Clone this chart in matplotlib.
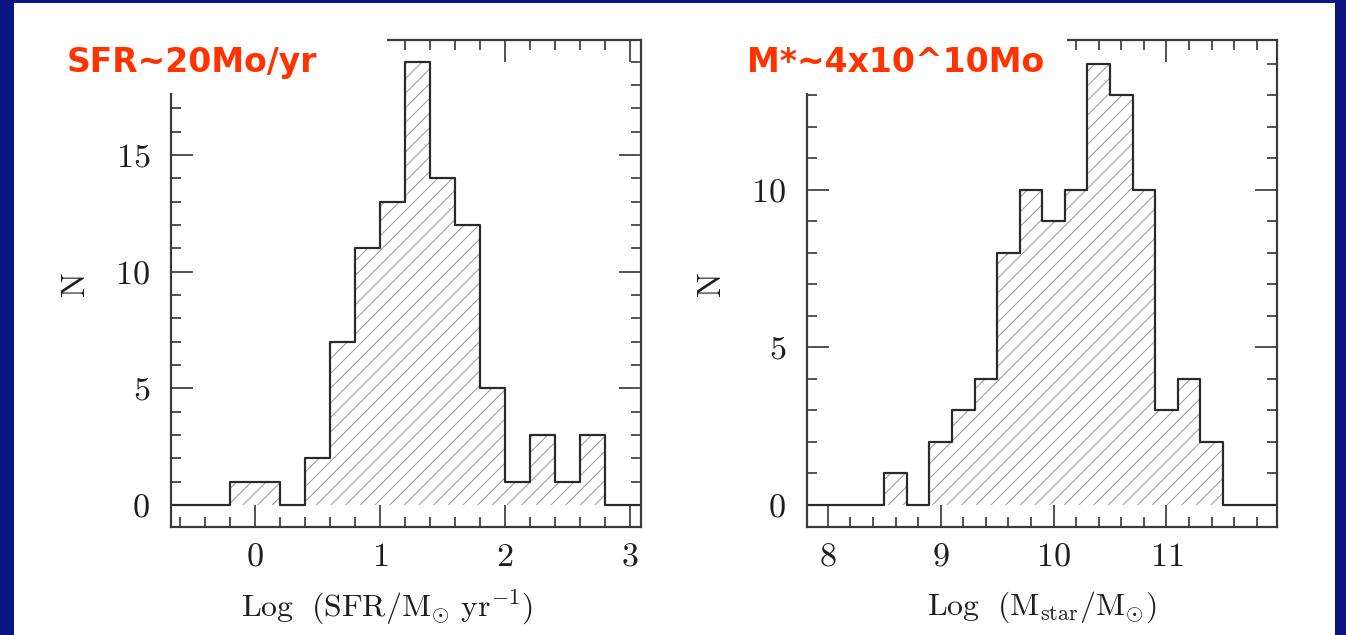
import numpy as np
import matplotlib
matplotlib.use('Agg')
import matplotlib.pyplot as plt
from matplotlib.ticker import MultipleLocator
from matplotlib.patches import Rectangle

# histogram counts, bins of 0.2 dex
sfr_edges = [-0.2, 0.0, 0.2, 0.4, 0.6, 0.8, 1.0, 1.2, 1.4, 1.6, 1.8, 2.0, 2.2, 2.4, 2.6, 2.8]
sfr_counts = [1, 1, 0, 2, 7, 11, 13, 19, 14, 12, 5, 1, 3, 1, 3]

mass_edges = [8.5, 8.7, 8.9, 9.1, 9.3, 9.5, 9.7, 9.9, 10.1, 10.3, 10.5, 10.7, 10.9, 11.1, 11.3, 11.5]
mass_counts = [1, 0, 2, 3, 4, 8, 10, 9, 10, 14, 13, 10, 3, 4, 2]

sfr_xlabel = r'$\mathrm{Log\ \ (SFR/M_{\odot}\ yr^{-1})}$'
mass_xlabel = r'$\mathrm{Log\ \ (M_{star}/M_{\odot})}$'
sfr_note = 'SFR~20Mo/yr'
mass_note = 'M*~4x10^10Mo'

W, H, DPI = 1346, 635, 88

plt.rcParams['font.family'] = 'serif'
plt.rcParams['font.serif'] = ['cmr10']
plt.rcParams['mathtext.fontset'] = 'cm'
plt.rcParams['axes.formatter.use_mathtext'] = True
plt.rcParams['hatch.linewidth'] = 0.8

FRAME = '#3a3a3a'
RED = '#ff3300'
TXT = '#1e1e1e'


def hist_panel(ax, edges, counts, xlim, ylim, xmaj, ymaj):
    edges = np.asarray(edges, dtype=float)
    counts = np.asarray(counts, dtype=float)
    ax.fill_between(edges, np.append(counts, counts[-1]), 0, step='post',
                    facecolor='none', edgecolor='#9a9a9a', hatch='//', linewidth=0)
    x = np.concatenate([[xlim[0]], edges, [xlim[1]]])
    y = np.concatenate([[0], counts, [0, 0]])
    ax.step(x, y, where='post', color='#2a2a2a', lw=1.8)
    ax.set_xlim(*xlim)
    ax.set_ylim(*ylim)
    ax.xaxis.set_major_locator(MultipleLocator(xmaj))
    ax.xaxis.set_minor_locator(MultipleLocator(0.2))
    ax.yaxis.set_major_locator(MultipleLocator(ymaj))
    ax.yaxis.set_minor_locator(MultipleLocator(1))
    ax.tick_params(which='both', direction='in', top=True, right=True,
                   color=FRAME, width=1.4, labelsize=28, labelcolor=TXT)
    ax.tick_params(which='major', length=18)
    ax.tick_params(which='minor', length=8)
    ax.tick_params(axis='x', which='major', pad=13)
    ax.tick_params(axis='y', which='major', pad=17)
    for s in ax.spines.values():
        s.set_color(FRAME)
        s.set_linewidth(1.8)


fig = plt.figure(figsize=(W / DPI, H / DPI), dpi=DPI, facecolor='#0b1582')
# white slide area inside the blue frame
fig.patches.append(Rectangle((14 / W, 0), (1335 - 14) / W, (H - 3) / H,
                             transform=fig.transFigure, facecolor='white',
                             edgecolor='none', zorder=-10))

ax1 = fig.add_axes([171 / W, (H - 527) / H, 470 / W, 487 / H])
ax2 = fig.add_axes([807 / W, (H - 527) / H, 470 / W, 487 / H])

hist_panel(ax1, sfr_edges, sfr_counts, (-0.67, 3.09), (-0.94, 19.93), 1, 5)
hist_panel(ax2, mass_edges, mass_counts, (7.815, 11.98), (-0.70, 14.76), 1, 5)

ax1.text(0.46, -0.165, sfr_xlabel, transform=ax1.transAxes, ha='center',
         va='center', fontsize=26, color=TXT)
ax2.text(0.50, -0.165, mass_xlabel, transform=ax2.transAxes, ha='center',
         va='center', fontsize=26, color=TXT)
for ax in (ax1, ax2):
    ax.text(-0.203, 0.5, 'N', transform=ax.transAxes, rotation=90,
            ha='center', va='center', fontsize=27, color=TXT)

# white boxes that hide the frame corners behind the red notes
fig.patches.append(Rectangle((14 / W, (H - 93) / H), (387 - 14) / W, 90 / H,
                             transform=fig.transFigure, facecolor='white',
                             edgecolor='none', zorder=5))
fig.patches.append(Rectangle((700 / W, (H - 93) / H), (1067 - 700) / W, 90 / H,
                             transform=fig.transFigure, facecolor='white',
                             edgecolor='none', zorder=5))
fig.text(67 / W, 1 - 72 / H, sfr_note, color=RED, fontsize=27, weight='bold',
         family='DejaVu Sans', va='baseline', zorder=6)
fig.text(747 / W, 1 - 72 / H, mass_note, color=RED, fontsize=27, weight='bold',
         family='DejaVu Sans', va='baseline', zorder=6)

fig.savefig('out.png', dpi=DPI, facecolor=fig.get_facecolor())
